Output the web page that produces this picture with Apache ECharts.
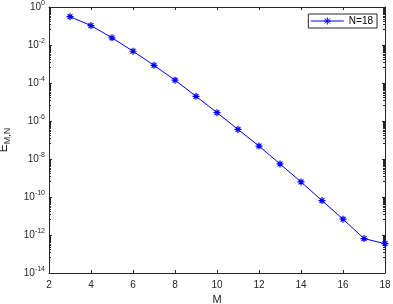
<!DOCTYPE html>
<html><head><meta charset="utf-8">
<script src="https://cdn.jsdelivr.net/npm/echarts@6/dist/echarts.min.js"></script>
<style>html,body{margin:0;padding:0;background:#fff}#c{width:393px;height:304px}</style>
</head><body><div id="c"></div>
<script>
const M = [3,4,5,6,7,8,9,10,11,12,13,14,15,16,17,18];
const E = [0.31,0.105,0.024,4.7e-3,8.5e-4,1.4e-4,2.0e-5,2.75e-6,3.6e-7,4.8e-8,5.5e-9,6.2e-10,6.5e-11,6.8e-12,6.5e-13,3.5e-13];
const seriesName = 'N=18';
const xTicks = [2,4,6,8,10,12,14,16,18];

const FONT = 'Liberation Sans';
const AX = '#262626';
const star = 'path://M0,5L10,5M5,0L5,10M1.5,1.5L8.5,8.5M8.5,1.5L1.5,8.5';
const legendIcon = 'path://M0,3.5L33,3.5M13,3.5L20,3.5M16.5,0L16.5,7M14,1L19,6M19,1L14,6';

const ylabel = v => {
  const e = Math.round(Math.log10(v));
  return '{b|10}{s|' + e + '}';
};
const yRich = {
  b:{fontSize:10,color:AX,fontFamily:FONT},
  s:{fontSize:7,color:AX,fontFamily:FONT,padding:[0,0,7,0]}
};
const baseX = {
  type:'value', min:xTicks[0], max:xTicks[xTicks.length-1], interval:2,
  axisLine:{lineStyle:{color:AX,width:1}},
  axisTick:{inside:true,length:3,lineStyle:{color:AX}},
  splitLine:{show:false}
};
const baseY = {
  type:'log', logBase:10, min:1e-14, max:1, interval:2,
  axisLine:{lineStyle:{color:AX,width:1}},
  axisTick:{inside:true,length:3,lineStyle:{color:AX}},
  minorTick:{show:true,splitNumber:18,length:2,lineStyle:{color:AX,width:1}},
  splitLine:{show:false}
};
const chart = echarts.init(document.getElementById('c'),null,{renderer:'canvas'});
chart.setOption({
  animation:false,
  backgroundColor:'#fff',
  grid:{left:49,right:8,top:7,bottom:31,containLabel:false,outerBoundsMode:'none'},
  legend:{
    show:true, right:16, top:14, orient:'vertical',
    data:[{name:seriesName, icon:legendIcon}],
    borderColor:AX, borderWidth:1, backgroundColor:'#fff',
    padding:[2,4,2,2], itemWidth:33, itemHeight:7, itemGap:2,
    itemStyle:{color:'#0000ff',borderColor:'#0000ff',borderWidth:1},
    textStyle:{fontFamily:FONT,fontSize:10,color:'#000'}
  },
  xAxis:[
    Object.assign({},baseX,{position:'bottom',name:'M',nameLocation:'middle',nameGap:18,
      nameTextStyle:{fontFamily:FONT,fontSize:11,color:AX},
      axisLabel:{fontFamily:FONT,fontSize:10,color:AX,margin:7}}),
    Object.assign({},baseX,{position:'top',axisLabel:{show:false}})
  ],
  yAxis:[
    Object.assign({},baseY,{position:'left',
      name:'{a|E}{s|M,N}',nameLocation:'middle',nameGap:37,nameRotate:90,
      nameTextStyle:{rich:{a:{fontFamily:FONT,fontSize:12,color:AX},s:{fontFamily:FONT,fontSize:9,color:AX,padding:[7,0,0,0]}}},
      axisLabel:{formatter:ylabel,rich:yRich,margin:4}}),
    Object.assign({},baseY,{position:'right',axisLabel:{show:false}})
  ],
  series:[{
    name:seriesName, type:'line',
    data:M.map((m,i)=>[m,E[i]]),
    xAxisIndex:0, yAxisIndex:0,
    symbol:star, symbolSize:7,
    lineStyle:{color:'#0000ff',width:1},
    itemStyle:{color:'#0000ff',borderColor:'#0000ff',borderWidth:1.2},
    emphasis:{disabled:true}
  }]
});
</script></body></html>
